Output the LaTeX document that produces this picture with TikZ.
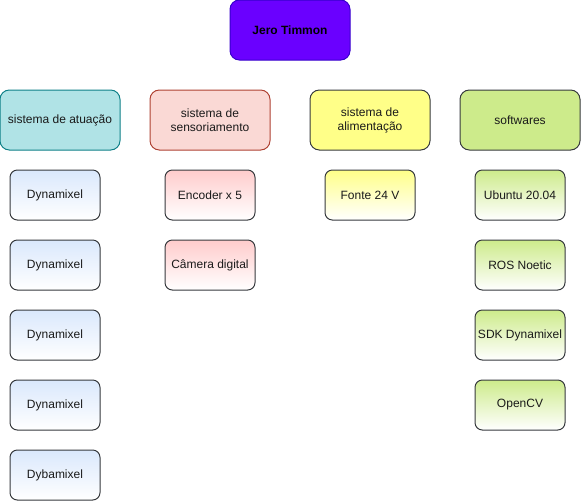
\documentclass[tikz,border=0pt]{standalone}
\usepackage{fontspec}
\setmainfont{Liberation Sans}
\usetikzlibrary{positioning}

\begin{document}
\begin{tikzpicture}[
    x=0.75pt, y=-0.75pt,
    font=\fontsize{9}{10.5}\selectfont
]

    % Define colors
    \definecolor{rootFill}{HTML}{6A00FF}
    \definecolor{rootStroke}{HTML}{3700CC}
    \definecolor{actFill}{HTML}{B0E3E6}
    \definecolor{actStroke}{HTML}{0E8088}
    \definecolor{senFill}{HTML}{FAD9D5}
    \definecolor{senStroke}{HTML}{AE4132}
    \definecolor{powFill}{HTML}{FFFF88}
    \definecolor{softFill}{HTML}{CDEB8B}
    \definecolor{boxStroke}{HTML}{36393D}
    \definecolor{actTop}{HTML}{DAE8FC}
    \definecolor{senTop}{HTML}{FFCCCC}
    \definecolor{txtColor}{HTML}{1A1A1A}

    \tikzset{
        catbox/.style={draw, rounded corners=7pt, minimum width=90pt, minimum height=45pt,
            align=center, inner sep=0pt, line width=0.75pt, text=txtColor},
        itembox/.style={draw=boxStroke, rounded corners=5.5pt, minimum width=67.5pt,
            minimum height=37.5pt, align=center, inner sep=0pt, line width=0.75pt,
            text=txtColor, bottom color=white}
    }

    \useasboundingbox (0,0) rectangle (581,501);

    % 1. Root
    \node[catbox, draw=rootStroke, fill=rootFill, text=black, font=\fontsize{9}{10.5}\selectfont\bfseries] (root) at (290,30) {Jero Timmon};

    % 2. Subsystems
    \node[catbox, draw=actStroke, fill=actFill] (atuacao) at (60,120) {sistema de atuação};
    \node[catbox, draw=senStroke, fill=senFill] (sensor) at (210,120) {sistema de\\sensoriamento};
    \node[catbox, draw=boxStroke, fill=powFill] (alim) at (370,120) {sistema de\\alimentação};
    \node[catbox, draw=boxStroke, fill=softFill] (soft) at (520,120) {softwares};

    % 3. Parts
    % Atuação (Left)
    \foreach \lbl [count=\i] in {Dynamixel, Dynamixel, Dynamixel, Dynamixel, Dybamixel} {
        \node[itembox, top color=actTop] (act\i) at (55, {195+70*(\i-1)}) {\lbl};
    }

    % Sensoriamento
    \node[itembox, top color=senTop] (enc) at (210,195) {Encoder x 5};
    \node[itembox, top color=senTop] (cam) at (210,265) {Câmera digital};

    % Alimentação
    \node[itembox, top color=powFill] (fonte) at (370,195) {Fonte 24 V};

    % Softwares (Right)
    \foreach \lbl [count=\i] in {Ubuntu 20.04, ROS Noetic, SDK Dynamixel, OpenCV} {
        \node[itembox, top color=softFill] (sw\i) at (520, {195+70*(\i-1)}) {\lbl};
    }

\end{tikzpicture}
\end{document}
